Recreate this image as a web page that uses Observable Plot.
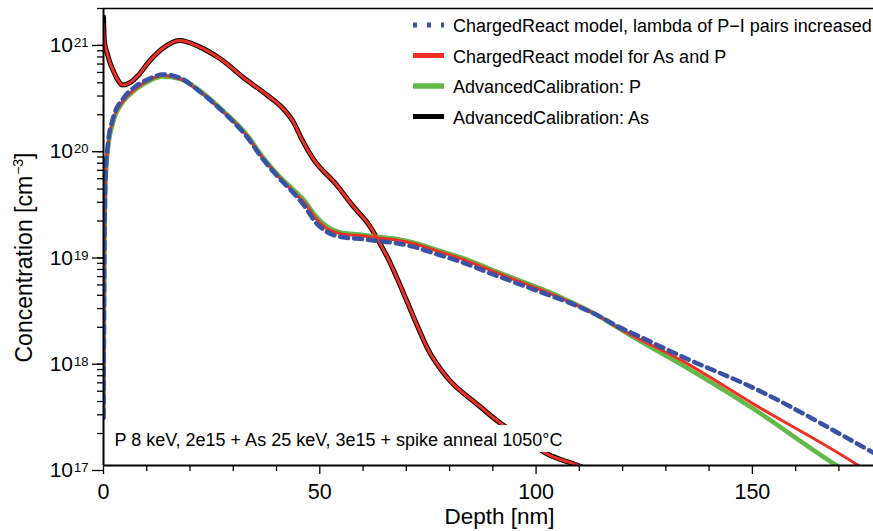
<!DOCTYPE html>
<html><head><meta charset="utf-8">
<script src="https://cdn.jsdelivr.net/npm/d3@7"></script>
<script src="https://cdn.jsdelivr.net/npm/@observablehq/plot@0.6"></script>
<style>
body{margin:0;background:#fff;}
#chart svg{display:block;}
</style></head><body><div id="chart"></div>
<script>
// ---- data (concentrations stored as log10 of cm^-3) ----
const depthAs = [0, 0.2, 0.5, 1, 1.5, 2, 3, 4.5, 6, 8, 10.5, 13.5, 17.6, 22.2, 26.9, 33, 37.7, 41.5, 43.8, 46.1, 48.4, 53.9, 57.5, 61.6, 63.2, 66, 68, 70.1, 72.5, 74.8, 79.4, 86.3, 91.7, 97, 102.5, 109.7, 116];
const asAdvCalLog = [21.22, 21.0, 20.93, 20.86, 20.79, 20.74, 20.65, 20.58, 20.60, 20.67, 20.80, 20.92, 21.0, 20.94, 20.83, 20.63, 20.49, 20.36, 20.24, 20.05, 19.89, 19.64, 19.45, 19.25, 19.14, 18.93, 18.75, 18.55, 18.32, 18.11, 17.83, 17.58, 17.40, 17.26, 17.11, 17.0, 16.88];
const asChargedLog = [21.15, 21.0, 20.93, 20.86, 20.79, 20.74, 20.65, 20.58, 20.60, 20.67, 20.80, 20.92, 21.0, 20.94, 20.83, 20.63, 20.49, 20.36, 20.24, 20.05, 19.89, 19.64, 19.45, 19.25, 19.14, 18.93, 18.75, 18.55, 18.32, 18.11, 17.83, 17.58, 17.40, 17.26, 17.11, 17.0, 16.88];

const depthPHead = [0, 0.2, 0.5, 1, 2.15, 4.5, 7.5, 10.6, 13.7, 17.6, 22.2, 27.6, 33, 36.9, 40.7, 43.8, 46.5, 49, 51.6, 55, 60, 63.9, 68, 72.4, 77, 82.4, 90, 95.6, 103.2, 107.2, 114.8, 118.8, 122];
const pAdvCalHeadLog = [17.45, 18.9, 19.7, 19.97, 20.22, 20.42, 20.54, 20.62, 20.66, 20.64, 20.53, 20.34, 20.12, 19.90, 19.72, 19.60, 19.49, 19.35, 19.25, 19.19, 19.17, 19.15, 19.13, 19.09, 19.03, 18.96, 18.84, 18.75, 18.63, 18.555, 18.40, 18.30, 18.22];
const pChargedHeadLog = [17.45, 19.0, 19.75, 20.0, 20.24, 20.43, 20.55, 20.63, 20.67, 20.64, 20.52, 20.33, 20.11, 19.89, 19.71, 19.58, 19.47, 19.33, 19.23, 19.18, 19.16, 19.14, 19.12, 19.08, 19.02, 18.95, 18.83, 18.74, 18.62, 18.55, 18.40, 18.30, 18.23];
const pLambdaHeadLog = [17.45, 19.0, 19.77, 20.02, 20.26, 20.45, 20.57, 20.64, 20.68, 20.65, 20.52, 20.33, 20.10, 19.88, 19.70, 19.57, 19.44, 19.29, 19.20, 19.15, 19.13, 19.11, 19.09, 19.05, 18.99, 18.92, 18.80, 18.715, 18.60, 18.54, 18.40, 18.31, 18.25];

const depthAdvCalTail = [134, 150, 169.5, 176];
const pAdvCalTailLog = [17.94, 17.54, 17.0, 16.84];
const depthChargedTail = [134, 150, 174.5, 180];
const pChargedTailLog = [17.98, 17.585, 17.0, 16.85];
const depthLambdaTail = [134, 150, 178, 182];
const pLambdaTailLog = [18.02, 17.735, 17.12, 17.03];

const xMajorTicks = [0, 50, 100, 150];
const xMinorTicks = [10, 20, 30, 40, 60, 70, 80, 90, 110, 120, 130, 140, 160, 170];
const yMajorTicks = [1e17, 1e18, 1e19, 1e20, 1e21];
const yMinorTicks = [17, 18, 19, 20].flatMap(k => [2, 3, 4, 5, 6, 7, 8, 9].map(m => m * 10 ** k)).concat([2e21]);

const legendLabels = ["ChargedReact model, lambda of P\u2212I pairs increased", "ChargedReact model for As and P", "AdvancedCalibration: P", "AdvancedCalibration: As"];
const legendColors = ["#3a52a6", "#ee3124", "#62b947", "#000000"];
const legendDash = ["4,10", null, null, null];
const legendWidth = [5, 5, 5.5, 5];

const annotation = "P 8 keV, 2e15 + As 25 keV, 3e15 + spike anneal 1050\u00B0C";
const xLabel = "Depth [nm]";
const yLabel = "Concentration [cm^{\u22123}]";

// ---- build ----
const FONT = "'Liberation Sans', Arial, Helvetica, sans-serif";
const xDomain = [0, 178];
const yDomain = [1e17, 2e21];
const series = (depth, logs) => depth.map((d, i) => ({depth: d, conc: 10 ** logs[i]}));

const asAdv = series(depthAs, asAdvCalLog);
const asChg = series(depthAs, asChargedLog);
const pAdv = series(depthPHead.concat(depthAdvCalTail), pAdvCalHeadLog.concat(pAdvCalTailLog));
const pChg = series(depthPHead.concat(depthChargedTail), pChargedHeadLog.concat(pChargedTailLog));
const pLam = series(depthPHead.concat(depthLambdaTail), pLambdaHeadLog.concat(pLambdaTailLog));

const lineOpts = {x: "depth", y: "conc", curve: "monotone-x", clip: true, strokeLinejoin: "round"};

const plot = Plot.plot({
  width: 873, height: 531,
  marginLeft: 103, marginRight: 0, marginTop: 8, marginBottom: 66,
  style: {fontFamily: FONT, background: "white", color: "black", overflow: "visible"},
  x: {domain: xDomain},
  y: {type: "log", domain: yDomain},
  marks: [
    Plot.line(asAdv, {...lineOpts, stroke: legendColors[3], strokeWidth: 5}),
    Plot.line(pAdv, {...lineOpts, stroke: legendColors[2], strokeWidth: 4.5}),
    Plot.line(asChg, {...lineOpts, stroke: legendColors[1], strokeWidth: 3}),
    Plot.line(pChg, {...lineOpts, stroke: legendColors[1], strokeWidth: 3}),
    Plot.line(pLam, {...lineOpts, stroke: legendColors[0], strokeWidth: 4.5, strokeDasharray: "8,6"}),
    Plot.text([annotation], {frameAnchor: "bottom-left", dx: 11, dy: -19.5, textAnchor: "start", lineAnchor: "bottom", fontSize: 18, fill: "black"}),
    Plot.ruleX([xDomain[0]], {strokeWidth: 2}),
    Plot.ruleY([yDomain[0]], {strokeWidth: 2}),
    Plot.ruleY([yDomain[1]], {strokeWidth: 1.5}),
    Plot.axisX({ticks: xMajorTicks, tickSize: 9, tickPadding: 9.5, fontSize: 21.5, strokeWidth: 1.3, label: null, tickFormat: d => String(d)}),
    Plot.axisX({ticks: xMinorTicks, tickSize: 6, strokeWidth: 1.3, label: null, tickFormat: () => ""}),
    Plot.axisY({ticks: yMajorTicks, tickSize: 11, tickPadding: 4, fontSize: 21, dy: 5, strokeWidth: 1.3, label: null, tickFormat: d => `10^{${Math.round(Math.log10(d))}}`}),
    Plot.axisY({ticks: yMinorTicks, tickSize: 6, strokeWidth: 1.3, label: null, tickFormat: () => ""}),
    Plot.text([xLabel], {frameAnchor: "bottom", dx: 11, dy: 58.5, lineAnchor: "bottom", fontSize: 22.5, fill: "black"}),
    Plot.text([yLabel], {frameAnchor: "left", rotate: -90, dx: -71.5, dy: 20.5, textAnchor: "middle", lineAnchor: "bottom", fontSize: 23, fill: "black"})
  ]
});

document.getElementById("chart").append(plot);
const svg = d3.select(plot);

// superscripts
function supify(el, supSize, shift) {
  const m = el.textContent.match(/^(.*)\^\{(.*?)\}(.*)$/);
  if (!m) return;
  el.textContent = "";
  const ns = "http://www.w3.org/2000/svg";
  const t1 = document.createElementNS(ns, "tspan"); t1.textContent = m[1]; el.appendChild(t1);
  const t2 = document.createElementNS(ns, "tspan"); t2.textContent = m[2];
  t2.setAttribute("font-size", supSize); t2.setAttribute("dy", -shift); t2.setAttribute("dx", 1); el.appendChild(t2);
  if (m[3]) {
    const t3 = document.createElementNS(ns, "tspan"); t3.textContent = m[3];
    t3.setAttribute("dy", shift); el.appendChild(t3);
  }
}
svg.selectAll("text").each(function() {
  const s = this.textContent;
  if (s.startsWith("10^")) supify(this, 13, 5);
  else if (s.includes("^{")) supify(this, 14, 9.5);
});

// white box behind annotation
svg.selectAll("text").each(function() {
  if (this.textContent !== annotation) return;
  const b = this.getBBox();
  const r = document.createElementNS("http://www.w3.org/2000/svg", "rect");
  r.setAttribute("x", b.x - 8); r.setAttribute("y", b.y - 5);
  r.setAttribute("width", b.width + 16); r.setAttribute("height", b.height + 7);
  r.setAttribute("fill", "white"); r.setAttribute("stroke", "none");
  const tr = this.getAttribute("transform"); if (tr) r.setAttribute("transform", tr);
  this.parentNode.insertBefore(r, this);
});

// legend
const lg = svg.append("g").attr("font-family", FONT).attr("font-size", 18).attr("fill", "black").attr("text-anchor", "start");
legendLabels.forEach((lab, i) => {
  const y = 25 + i * 30.5;
  const ln = lg.append("line").attr("x1", 413).attr("x2", 444).attr("y1", y).attr("y2", y)
    .attr("stroke", legendColors[i]).attr("stroke-width", legendWidth[i]);
  if (legendDash[i]) ln.attr("stroke-dasharray", legendDash[i]);
  lg.append("text").attr("x", 453).attr("y", y).attr("dy", 7).attr("text-anchor", "start").text(lab);
});
</script>
</body></html>
